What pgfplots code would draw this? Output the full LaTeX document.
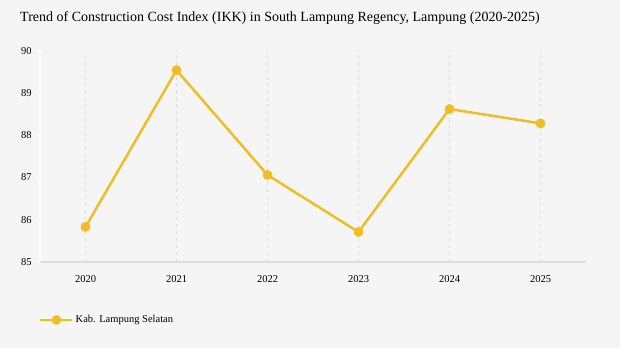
\documentclass[border=0pt]{standalone}
\usepackage{pgfplots}
\pgfplotsset{compat=1.18}
\usepackage{fontspec}
\setmainfont{Liberation Serif}
\definecolor{bg}{HTML}{F5F5F5}
\definecolor{ln}{HTML}{F0BD27}
\definecolor{gr}{HTML}{DDDDDD}
\begin{document}
\begin{tikzpicture}[x=1pt,y=1pt]
\fill[bg] (0,0) rectangle (620,348);
\node[anchor=west,inner sep=0pt,font=\fontsize{14}{16}\selectfont] at (20,330) {Trend of Construction Cost Index (IKK) in South Lampung Regency, Lampung (2020-2025)};
\begin{axis}[
  at={(40pt,86pt)}, anchor=south west,
  scale only axis, width=546pt, height=211.3pt,
  xmin=2019.5, xmax=2025.5, ymin=85, ymax=90,
  xtick={2020,2021,2022,2023,2024,2025},
  ytick={85,86,87,88,89,90},
  xticklabel style={/pgf/number format/1000 sep={}},
  /pgf/number format/assume math mode=true,
  tick label style={font=\fontsize{10.5}{12}\selectfont},
  axis x line*=bottom, axis y line*=left,
  x axis line style={draw=gr, line width=1.2pt, -},
  y axis line style={draw=white, line width=1.5pt, -},
  xtick style={draw=none},
  ytick style={draw=white, line width=1pt},
  tick align=outside,
  major tick length=5pt,
  xmajorgrids, grid style={draw=gr, line width=1pt, dash pattern=on 3.5pt off 3.5pt},
  xticklabel style={yshift=-5pt},
  legend style={at={(rel axis cs:0,0)}, anchor=west, xshift=-4pt, yshift=-58pt, draw=none, fill=none, font=\fontsize{10.5}{12}\selectfont},
  legend image code/.code={
    \draw[ln, line width=2.5pt] (0pt,0pt) -- (32pt,0pt);
    \fill[ln] (16pt,0pt) circle (3.5pt);
  },
]
\addplot[ln, line width=2.5pt, mark=*, mark size=3.6pt, mark options={fill=ln, draw=ln}] coordinates {
 (2020,85.83) (2021,89.54) (2022,87.06) (2023,85.71) (2024,88.62) (2025,88.28)
};
\addlegendentry{Kab. Lampung Selatan}
\end{axis}
\end{tikzpicture}
\end{document}
